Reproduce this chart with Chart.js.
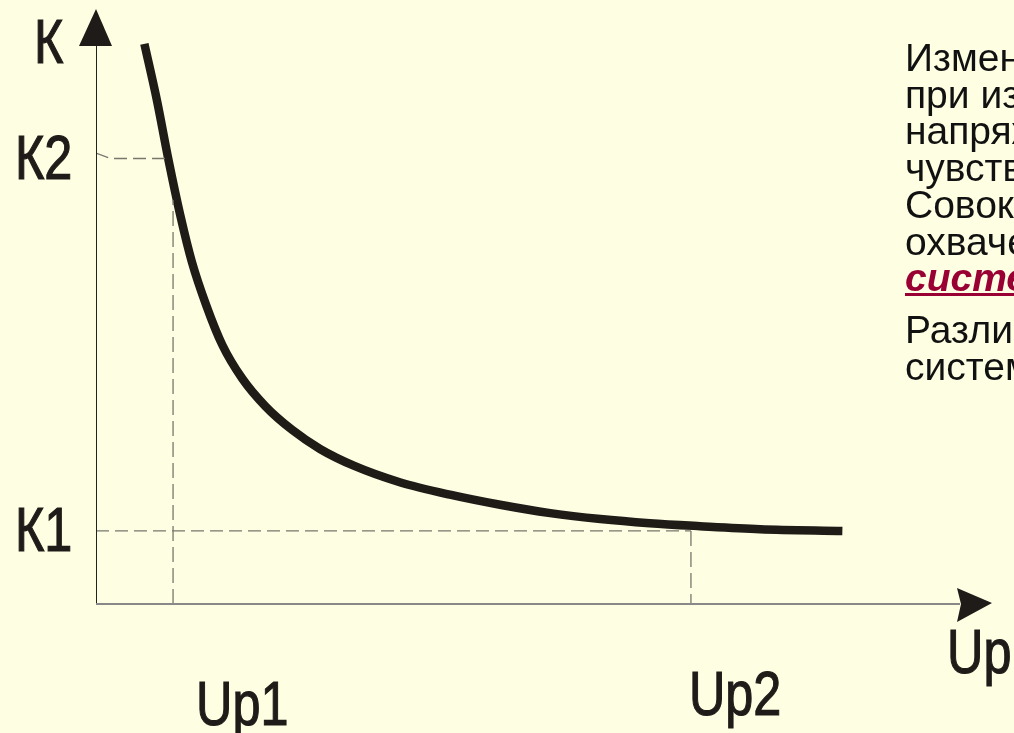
<!DOCTYPE html>
<html>
<head>
<meta charset="utf-8">
<script src="https://cdn.jsdelivr.net/npm/chart.js@4"></script>
<style>
    html, body { margin: 0; padding: 0; background: #FEFEE2; overflow: hidden; }
    #wrap { position: relative; width: 1014px; height: 733px; }
    #chart { position: absolute; left: 0; top: 0; }
    #note {
        position: absolute; left: 905px; top: 40px; white-space: nowrap;
        font-family: 'Liberation Sans', Arial, sans-serif; font-size: 39px; line-height: 36.7px; color: #111;
    }
    #note .term { color: #990033; font-weight: bold; font-style: italic; text-decoration: underline; }
    #note .gap { display: block; height: 15px; }
</style>
</head>
<body>
<div id="wrap">
    <canvas id="chart" width="1014" height="733"></canvas>
    <div id="note">
        Изменение коэффициента<br>
        при изменении<br>
        напряжения<br>
        чувствительности<br>
        Совокупность<br>
        охваченных<br>
        <span class="term">система</span><br>
        <span class="gap"></span>
        Различают<br>
        системы
    </div>
</div>
<script>
// K(Up) curve (axis units 0..100)
const uValues = [5.4, 6.8, 8.1, 9.4, 10.7, 12.3, 14.1, 16.3, 18.9, 21.9, 25.0, 28.9, 33.9, 39.5, 45.1, 50.7, 56.3, 61.8, 67.4, 74.1, 83.3];
const kValues = [94.3, 84.8, 74.7, 65.5, 57.6, 50.3, 43.6, 38.0, 33.3, 29.3, 26.1, 23.2, 20.5, 18.4, 16.7, 15.3, 14.3, 13.6, 13.1, 12.6, 12.3];

// marked levels
const kLevels = [12.3, 75.0];     // K1, K2
const upLevels = [8.6, 66.4];     // Up1, Up2
const kLabels = ['К1', 'К2'];
const upLabels = ['Up1', 'Up2'];

const curve = uValues.map((u, i) => ({ x: u, y: kValues[i] }));

const guideStyle = {
    borderColor: '#77776e',
    borderWidth: 1.3,
    borderDash: [13, 6],
    pointRadius: 0,
    fill: false,
    tension: 0
};

// Axes with arrows and the big letter labels
const axesPlugin = {
    id: 'axes',
    afterDatasetsDraw(chart) {
        const c = chart.ctx;
        const xs = chart.scales.x, ys = chart.scales.y;
        const x0 = xs.getPixelForValue(0), y0 = ys.getPixelForValue(0);
        const xEnd = xs.getPixelForValue(100), yEnd = ys.getPixelForValue(100);
        c.save();
        // y axis
        c.strokeStyle = '#222';
        c.lineWidth = 1;
        c.beginPath();
        c.moveTo(x0 + 0.5, y0);
        c.lineTo(x0 + 0.5, yEnd + 36);
        c.stroke();
        c.fillStyle = '#1e1b18';
        c.beginPath();
        c.moveTo(x0, yEnd - 1);
        c.lineTo(x0 - 17, yEnd + 36);
        c.lineTo(x0 + 16, yEnd + 36);
        c.closePath();
        c.fill();
        // x axis
        c.strokeStyle = '#888';
        c.lineWidth = 2;
        c.beginPath();
        c.moveTo(x0, y0);
        c.lineTo(xEnd - 32, y0);
        c.stroke();
        c.beginPath();
        c.moveTo(xEnd, y0 - 1);
        c.lineTo(xEnd - 35, y0 - 16);
        c.lineTo(xEnd - 31, y0);
        c.lineTo(xEnd - 35, y0 + 18);
        c.closePath();
        c.fill();

        // labels
        c.fillStyle = '#1e1b18';
        c.strokeStyle = '#1e1b18';
        c.lineWidth = 1.2;
        c.font = '63px "Liberation Sans", Arial, sans-serif';
        c.textBaseline = 'alphabetic';
        const put = (txt, x, y) => {
            c.save();
            c.translate(x, y);
            c.scale(0.8, 1);
            c.fillText(txt, 0, 0);
            c.strokeText(txt, 0, 0);
            c.restore();
        };
        put('К', 34, 63);
        kLevels.forEach((k, i) => put(kLabels[i], 15, ys.getPixelForValue(k) + 20));
        put(upLabels[0], xs.getPixelForValue(upLevels[0]) + 23, 725);
        put(upLabels[1], xs.getPixelForValue(upLevels[1]) - 2, 715);
        put('Up', 947, 673);
        c.restore();
    }
};

new Chart(document.getElementById('chart'), {
    type: 'line',
    data: {
        datasets: [
            Object.assign({ data: [{ x: 0, y: kLevels[1] + 0.9 }, { x: 1.6, y: kLevels[1] }, { x: 7.9, y: kLevels[1] }] }, guideStyle),
            Object.assign({ data: [{ x: upLevels[0], y: 0 }, { x: upLevels[0], y: 68 }] }, guideStyle, { borderDash: [15, 6] }),
            Object.assign({ data: [{ x: 0, y: kLevels[0] }, { x: upLevels[1], y: kLevels[0] }] }, guideStyle),
            Object.assign({ data: [{ x: upLevels[1], y: kLevels[0] }, { x: upLevels[1], y: 0 }] }, guideStyle, { borderDash: [15, 6] }),
            {
                data: curve,
                borderColor: '#1f1b17',
                borderWidth: 8.5,
                borderCapStyle: 'butt',
                cubicInterpolationMode: 'monotone',
                pointRadius: 0,
                fill: false
            }
        ]
    },
    options: {
        responsive: false,
        animation: false,
        layout: { padding: { left: 96, right: 22, top: 10, bottom: 129 } },
        plugins: { legend: { display: false }, tooltip: { enabled: false } },
        scales: {
            x: { type: 'linear', min: 0, max: 100, display: false },
            y: { type: 'linear', min: 0, max: 100, display: false }
        }
    },
    plugins: [axesPlugin]
});
</script>
</body>
</html>
